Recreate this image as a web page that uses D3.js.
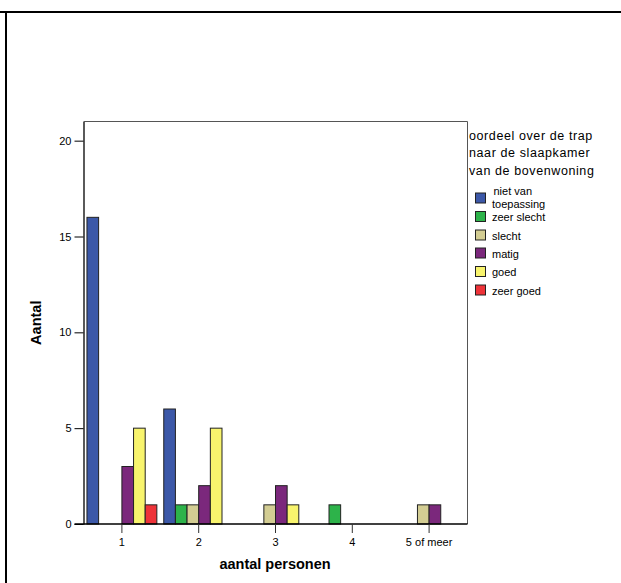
<!DOCTYPE html>
<html>
<head>
<meta charset="utf-8">
<script src="https://cdn.jsdelivr.net/npm/d3@7"></script>
<style>
  html, body { margin: 0; padding: 0; background: #fff; }
  svg { display: block; font-family: Arial, "Liberation Sans", sans-serif; }
</style>
</head>
<body>
<svg id="chart" width="621" height="583"></svg>
<script>
// Household size categories (x axis)
const categories = ["1", "2", "3", "4", "5 of meer"];

// Rating of the staircase to the bedroom of the upper dwelling
const seriesNames = ["niet van toepassing", "zeer slecht", "slecht", "matig", "goed", "zeer goed"];
const seriesColors = ["#3c58a8", "#2db34a", "#d3cd93", "#7b287c", "#f8f46d", "#ee3339"];

// Counts per series, one value per category
const nietVanToepassing = [16, 6, 0, 0, 0];
const zeerSlecht        = [0, 1, 0, 1, 0];
const slecht            = [0, 1, 1, 0, 1];
const matig             = [3, 2, 2, 0, 1];
const goed              = [5, 5, 1, 0, 0];
const zeerGoed          = [1, 0, 0, 0, 0];
const seriesValues = [nietVanToepassing, zeerSlecht, slecht, matig, goed, zeerGoed];

const yTicks = [0, 5, 10, 15, 20];

const svg = d3.select("#chart");

// Outer frame lines
svg.append("line").attr("x1", 0).attr("x2", 621).attr("y1", 12).attr("y2", 12)
  .attr("stroke", "#000").attr("stroke-width", 2);
svg.append("line").attr("x1", 6).attr("x2", 6).attr("y1", 12).attr("y2", 583)
  .attr("stroke", "#000").attr("stroke-width", 2);

const plot = { left: 83.5, right: 467.5, top: 121.5, bottom: 524 };

const x = d3.scaleBand()
  .domain(categories)
  .range([plot.left, plot.right])
  .paddingInner(0.09)
  .paddingOuter(0.045);

const xs = d3.scaleBand()
  .domain(seriesNames)
  .range([0, x.bandwidth()]);

const y = d3.scaleLinear()
  .domain([0, 21])
  .range([plot.bottom, plot.top]);

// Plot frame (top and right)
svg.append("path")
  .attr("d", `M${plot.left},${plot.top}H${plot.right}V${plot.bottom}`)
  .attr("fill", "none").attr("stroke", "#555").attr("stroke-width", 1);

// Bars
const rows = [];
categories.forEach((c, ci) => {
  seriesNames.forEach((s, si) => {
    const v = seriesValues[si][ci];
    if (v > 0) rows.push({ c, s, v, color: seriesColors[si] });
  });
});

svg.append("g").selectAll("rect")
  .data(rows)
  .join("rect")
  .attr("x", d => x(d.c) + xs(d.s))
  .attr("y", d => y(d.v))
  .attr("width", xs.bandwidth())
  .attr("height", d => y(0) - y(d.v))
  .attr("fill", d => d.color)
  .attr("stroke", "#222")
  .attr("stroke-width", 1);

// Y axis
const yAxis = d3.axisLeft(y).tickValues(yTicks).tickSize(9).tickPadding(3).tickSizeOuter(0);
const gy = svg.append("g").attr("transform", `translate(${plot.left},0)`).call(yAxis);
gy.select(".domain").attr("stroke", "#000").attr("stroke-width", 1.3);
gy.selectAll(".tick line").attr("stroke", "#000");
gy.selectAll(".tick text").attr("font-size", 11).attr("font-family", "Arial, 'Liberation Sans', sans-serif").attr("fill", "#000");

// X axis
const xAxis = d3.axisBottom(x).tickSize(9).tickPadding(5).tickSizeOuter(0);
const gx = svg.append("g").attr("transform", `translate(0,${plot.bottom})`).call(xAxis);
gx.select(".domain").attr("d", `M${plot.left - 9},0H${plot.right}`).attr("stroke", "#000").attr("stroke-width", 1.6);
gx.selectAll(".tick line").attr("stroke", "#333");
gx.selectAll(".tick text").attr("font-size", 11).attr("font-family", "Arial, 'Liberation Sans', sans-serif").attr("fill", "#000");

// Axis titles
svg.append("text")
  .attr("x", (plot.left + plot.right) / 2 - 0.5)
  .attr("y", 568.5)
  .attr("text-anchor", "middle")
  .attr("font-size", 14.5).attr("font-weight", "bold")
  .text("aantal personen");

svg.append("text")
  .attr("transform", `translate(41,${(plot.top + plot.bottom) / 2}) rotate(-90)`)
  .attr("text-anchor", "middle")
  .attr("font-size", 14.5).attr("font-weight", "bold")
  .text("Aantal");

// Legend
const legend = svg.append("g").attr("transform", "translate(471,0)");
const titleLines = ["oordeel over de trap", "naar de slaapkamer", "van de bovenwoning"];
legend.selectAll("text.title")
  .data(titleLines)
  .join("text")
  .attr("class", "title")
  .attr("x", -2)
  .attr("y", (d, i) => 139.5 + i * 17.8)
  .attr("font-size", 12.5)
  .attr("letter-spacing", 0.6)
  .text(d => d);

const itemY = [198.5, 217, 235.5, 253.5, 272, 290.5];
const labelLines = [["niet van", "toepassing"], ["zeer slecht"], ["slecht"], ["matig"], ["goed"], ["zeer goed"]];
const items = legend.selectAll("g.item")
  .data(seriesNames)
  .join("g")
  .attr("class", "item")
  .attr("transform", (d, i) => `translate(0,${itemY[i]})`);

items.append("rect")
  .attr("x", 4.5).attr("y", -5.5)
  .attr("width", 10).attr("height", 10)
  .attr("fill", (d, i) => seriesColors[i])
  .attr("stroke", "#222").attr("stroke-width", 1);

items.each(function(d, i) {
  const lines = labelLines[i];
  const g = d3.select(this);
  lines.forEach((line, li) => {
    const dy = lines.length === 1 ? 4 : (li === 0 ? -3.5 : 9);
    g.append("text")
      .attr("x", lines.length === 1 ? 21 : (li === 0 ? 22.5 : 21))
      .attr("y", dy)
      .attr("font-size", 11)
      .text(line);
  });
});
</script>
</body>
</html>
